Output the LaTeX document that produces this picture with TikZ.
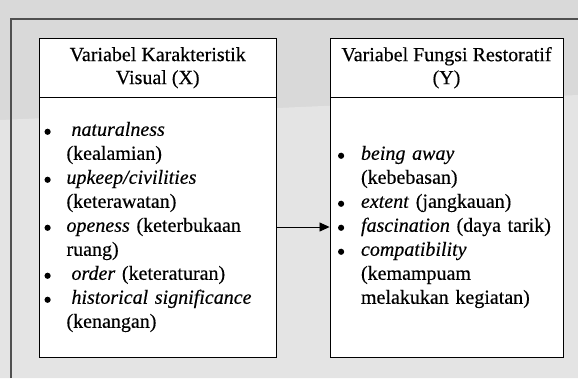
\documentclass[tikz,border=0pt]{standalone}
\usepackage{fontspec}
\setmainfont{Liberation Serif}[FakeBold=0.35]
\usetikzlibrary{arrows.meta}
\definecolor{bggray}{HTML}{D9D9D9}
\definecolor{bglight}{HTML}{E4E4E4}
\definecolor{framegray}{HTML}{505050}
\newcommand{\bul}[1]{\makebox[#1][l]{\raisebox{0.5pt}{\tikz[baseline=-3.5pt]\fill (0,0) circle (3.1pt);}}}
\begin{document}
\begin{tikzpicture}[x=1pt,y=-1pt,
  boxhead/.style={draw=black, line width=0.9pt, fill=white, minimum height=58.5pt,
    inner sep=0pt, align=center, font=\fontsize{20}{23}\selectfont},
  boxbody/.style={draw=black, line width=0.9pt, fill=white, minimum height=260pt,
    inner ysep=0pt, align=left, font=\fontsize{20}{24}\selectfont},
  linkarrow/.style={draw=black, line width=0.8pt, -{Triangle[length=10pt,width=9pt]}}
]
\useasboundingbox (0,0) rectangle (578,378);
\fill[bggray] (0,0) rectangle (578,378);
\fill[bglight] (0,120) -- (578,95) -- (578,378) -- (0,378) -- cycle;
\draw[framegray, line width=1.5pt] (11,378) -- (11,19) -- (578,19);

% left box
\node[boxhead, minimum width=236.5pt] (lhead) at (157.75,67.75)
  {Variabel Karakteristik\\Visual (X)};
\node[boxbody, minimum width=236.5pt, text width=226.5pt, inner xsep=5pt] (lbody) at (157.75,227)
  {\bul{22pt}\hspace*{5pt}\textit{naturalness}\\
   \hspace*{22pt}(kealamian)\\
   \bul{22pt}\textit{upkeep/civilities}\\
   \hspace*{22pt}(keterawatan)\\
   \bul{22pt}\textit{openess} (keterbukaan\\
   \hspace*{22pt}ruang)\\
   \bul{22pt}\hspace*{5pt}\textit{order} (keteraturan)\\
   \bul{22pt}\hspace*{5pt}\textit{historical significance}\\
   \hspace*{22pt}(kenangan)};

% right box
\node[boxhead, minimum width=233pt] (rhead) at (446.5,67.75)
  {Variabel Fungsi Restoratif\\(Y)};
\node[boxbody, minimum width=233pt, text width=217pt, inner xsep=8pt] (rbody) at (446.5,227)
  {\bul{23pt}\textit{being away}\\
   \hspace*{23pt}(kebebasan)\\
   \bul{23pt}\textit{extent} (jangkauan)\\
   \bul{23pt}\textit{fascination} (daya tarik)\\
   \bul{23pt}\textit{compatibility}\\
   \hspace*{23pt}(kemampuam\\
   \hspace*{23pt}melakukan kegiatan)};

\draw[linkarrow] (lbody) -- (rbody);
\end{tikzpicture}
\end{document}
